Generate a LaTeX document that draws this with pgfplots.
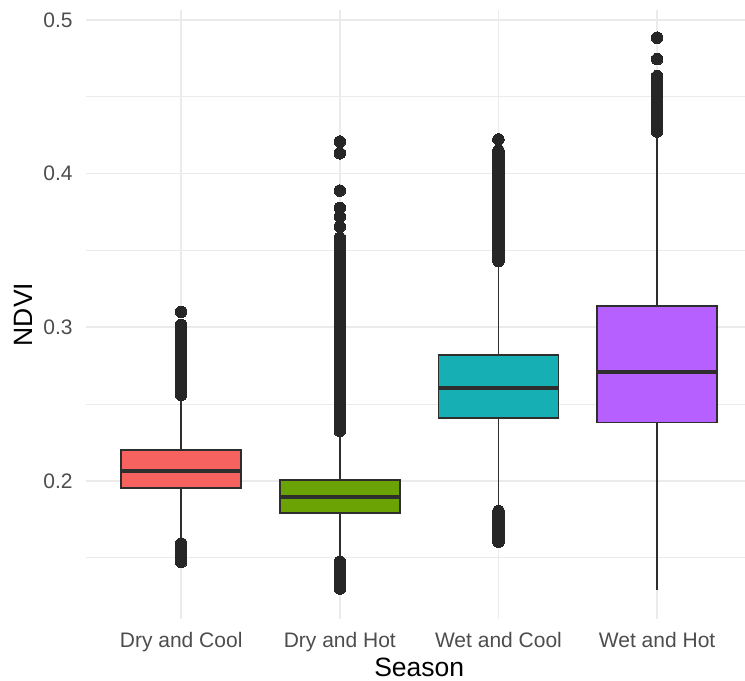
\documentclass[border=0pt]{standalone}
\usepackage{pgfplots}
\pgfplotsset{compat=1.18}
\usepackage{fontspec}
\setmainfont{Liberation Sans}
\definecolor{cRed}{HTML}{F5625F}
\definecolor{cGreen}{HTML}{6BA305}
\definecolor{cTeal}{HTML}{16AFB3}
\definecolor{cPurple}{HTML}{B660FF}
\definecolor{cLine}{HTML}{2E2E2E}
\definecolor{cDot}{HTML}{262626}
\definecolor{cGrid}{HTML}{EBEBEB}
\definecolor{cTick}{HTML}{4D4D4D}
\pgfplotsset{
  whisk/.style={draw=cLine, line width=0.8pt, mark=none},
  boxs/.style={draw=cLine, line width=0.8pt, mark=none, fill=#1},
  med/.style={draw=cLine, line width=2pt, mark=none},
  outl/.style={only marks, mark=*, mark size=2.9pt, mark options={draw=cDot, fill=cDot, line width=0pt}},
}
\begin{document}
\begin{tikzpicture}
\begin{axis}[
  scale only axis,
  width=329.5pt, height=304.5pt,
  xmin=0.4, xmax=4.554,
  ymin=0.1102, ymax=0.5064,
  xtick={1,2,3,4},
  xticklabels={Dry and Cool,Dry and Hot,Wet and Cool,Wet and Hot},
  ytick={0.2,0.3,0.4,0.5},
  minor ytick={0.15,0.25,0.35,0.45},
  yticklabels={0.2,0.3,0.4,0.5},
  grid=both,
  major grid style={draw=cGrid, line width=0.9pt},
  minor grid style={draw=cGrid, line width=0.45pt},
  axis line style={draw=none},
  tick style={draw=none},
  major tick length=0pt, minor tick length=0pt,
  tick label style={font=\fontsize{10.5pt}{12pt}\selectfont, text=cTick, inner sep=0pt},
  xticklabel style={yshift=-6.4pt},
  yticklabel style={xshift=-6.5pt},
  xlabel={Season},
  ylabel={NDVI},
  label style={font=\fontsize{13.25pt}{15pt}\selectfont, text=black, inner sep=0pt},
  xlabel style={at={([yshift=-29pt]axis description cs:0.5056,0)}, anchor=base},
  ylabel style={at={([xshift=-26.75pt]axis description cs:0,0.5)}, anchor=base},
]
% ---- Dry and Cool (x=1): whiskers 0.161..0.2525, Q1 0.1954, med 0.2067, Q3 0.2202
\addplot[whisk] coordinates {(1,0.161) (1,0.1954)};
\addplot[whisk] coordinates {(1,0.2202) (1,0.2525)};
\addplot[boxs=cRed] coordinates {(0.622,0.1954) (1.378,0.1954) (1.378,0.2202) (0.622,0.2202)} -- cycle;
\addplot[med] coordinates {(0.622,0.2067) (1.378,0.2067)};
% ---- Dry and Hot (x=2): whiskers 0.150..0.2305, Q1 0.1790, med 0.1898, Q3 0.2007
\addplot[whisk] coordinates {(2,0.150) (2,0.1790)};
\addplot[whisk] coordinates {(2,0.2007) (2,0.2305)};
\addplot[boxs=cGreen] coordinates {(1.622,0.1790) (2.378,0.1790) (2.378,0.2007) (1.622,0.2007)} -- cycle;
\addplot[med] coordinates {(1.622,0.1898) (2.378,0.1898)};
% ---- Wet and Cool (x=3): whiskers 0.183..0.340, Q1 0.2408, med 0.2607, Q3 0.2820
\addplot[whisk] coordinates {(3,0.183) (3,0.2408)};
\addplot[whisk] coordinates {(3,0.2820) (3,0.340)};
\addplot[boxs=cTeal] coordinates {(2.622,0.2408) (3.378,0.2408) (3.378,0.2820) (2.622,0.2820)} -- cycle;
\addplot[med] coordinates {(2.622,0.2607) (3.378,0.2607)};
% ---- Wet and Hot (x=4): whiskers 0.129..0.424, Q1 0.2379, med 0.2711, Q3 0.3139
\addplot[whisk] coordinates {(4,0.129) (4,0.2379)};
\addplot[whisk] coordinates {(4,0.3139) (4,0.424)};
\addplot[boxs=cPurple] coordinates {(3.622,0.2379) (4.378,0.2379) (4.378,0.3139) (3.622,0.3139)} -- cycle;
\addplot[med] coordinates {(3.622,0.2711) (4.378,0.2711)};
% ---- outliers: Dry and Cool
\addplot[outl] coordinates {
(1,0.2560)(1,0.2575)(1,0.2590)(1,0.2605)(1,0.2620)(1,0.2635)(1,0.2650)(1,0.2665)(1,0.2680)
(1,0.2695)(1,0.2710)(1,0.2725)(1,0.2740)(1,0.2755)(1,0.2770)(1,0.2785)(1,0.2800)(1,0.2815)
(1,0.2830)(1,0.2845)(1,0.2860)(1,0.2875)(1,0.2890)(1,0.2905)(1,0.2920)(1,0.2935)(1,0.2950)
(1,0.2965)(1,0.2980)(1,0.2995)(1,0.3015)(1,0.3100)
(1,0.1593)(1,0.1578)(1,0.1563)(1,0.1548)(1,0.1533)(1,0.1518)(1,0.1503)(1,0.1488)(1,0.1473)
};
% ---- outliers: Dry and Hot
\addplot[outl] coordinates {
(2,0.2325)(2,0.2340)(2,0.2355)(2,0.2370)(2,0.2385)(2,0.2400)(2,0.2415)(2,0.2430)(2,0.2445)
(2,0.2460)(2,0.2475)(2,0.2490)(2,0.2505)(2,0.2520)(2,0.2535)(2,0.2550)(2,0.2565)(2,0.2580)
(2,0.2595)(2,0.2610)(2,0.2625)(2,0.2640)(2,0.2655)(2,0.2670)(2,0.2685)(2,0.2700)(2,0.2715)
(2,0.2730)(2,0.2745)(2,0.2760)(2,0.2775)(2,0.2790)(2,0.2805)(2,0.2820)(2,0.2835)(2,0.2850)
(2,0.2865)(2,0.2880)(2,0.2895)(2,0.2910)(2,0.2925)(2,0.2940)(2,0.2955)(2,0.2970)(2,0.2985)
(2,0.3000)(2,0.3015)(2,0.3030)(2,0.3045)(2,0.3060)(2,0.3075)(2,0.3090)(2,0.3105)(2,0.3120)
(2,0.3135)(2,0.3150)(2,0.3165)(2,0.3180)(2,0.3195)(2,0.3210)(2,0.3225)(2,0.3240)(2,0.3255)
(2,0.3270)(2,0.3285)(2,0.3300)(2,0.3315)(2,0.3330)(2,0.3345)(2,0.3360)(2,0.3375)(2,0.3390)
(2,0.3405)(2,0.3420)(2,0.3435)(2,0.3450)(2,0.3465)(2,0.3480)(2,0.3495)(2,0.3510)(2,0.3525)
(2,0.3540)(2,0.3555)(2,0.3570)(2,0.3580)(2,0.3655)(2,0.3720)(2,0.3777)(2,0.3889)(2,0.4132)(2,0.4208)
(2,0.1475)(2,0.1460)(2,0.1445)(2,0.1430)(2,0.1415)(2,0.1400)(2,0.1385)(2,0.1370)(2,0.1355)
(2,0.1340)(2,0.1325)(2,0.1310)(2,0.1300)
};
% ---- outliers: Wet and Cool
\addplot[outl] coordinates {
(3,0.3430)(3,0.3445)(3,0.3460)(3,0.3475)(3,0.3490)(3,0.3505)(3,0.3520)(3,0.3535)(3,0.3550)
(3,0.3565)(3,0.3580)(3,0.3595)(3,0.3610)(3,0.3625)(3,0.3640)(3,0.3655)(3,0.3670)(3,0.3685)
(3,0.3700)(3,0.3715)(3,0.3730)(3,0.3745)(3,0.3760)(3,0.3775)(3,0.3790)(3,0.3805)(3,0.3820)
(3,0.3835)(3,0.3850)(3,0.3865)(3,0.3880)(3,0.3895)(3,0.3910)(3,0.3925)(3,0.3940)(3,0.3955)
(3,0.3970)(3,0.3985)(3,0.4000)(3,0.4015)(3,0.4030)(3,0.4045)(3,0.4060)(3,0.4075)(3,0.4090)
(3,0.4105)(3,0.4120)(3,0.4135)(3,0.4150)(3,0.4222)
(3,0.1805)(3,0.1790)(3,0.1775)(3,0.1760)(3,0.1745)(3,0.1730)(3,0.1715)(3,0.1700)(3,0.1685)
(3,0.1670)(3,0.1655)(3,0.1640)(3,0.1625)(3,0.1610)(3,0.1605)
};
% ---- outliers: Wet and Hot
\addplot[outl] coordinates {
(4,0.4273)(4,0.4288)(4,0.4303)(4,0.4318)(4,0.4333)(4,0.4348)(4,0.4363)(4,0.4378)(4,0.4393)
(4,0.4408)(4,0.4423)(4,0.4438)(4,0.4453)(4,0.4468)(4,0.4483)(4,0.4498)(4,0.4513)(4,0.4528)
(4,0.4543)(4,0.4558)(4,0.4573)(4,0.4588)(4,0.4603)(4,0.4618)(4,0.4633)(4,0.4744)(4,0.4884)
};
\end{axis}
\pgfresetboundingbox
\path[use as bounding box] ([shift={(-43pt,-31pt)}]current axis.south west) rectangle ([shift={(0pt,5pt)}]current axis.north east);
\end{tikzpicture}
\end{document}
